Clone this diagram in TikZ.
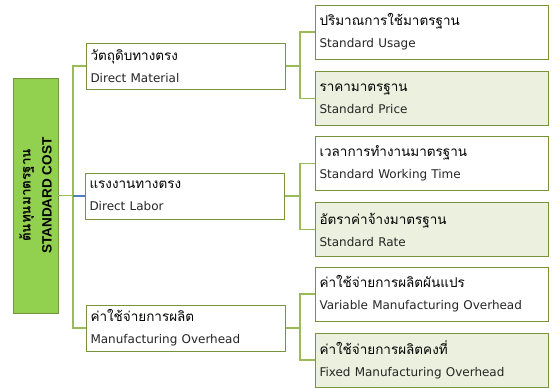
\documentclass[tikz,border=0pt]{standalone}
\usepackage{fontspec}
\setmainfont{DejaVu Sans}
\newfontfamily\thaif[Script=Thai]{Loma}
\newfontfamily\latf{DejaVu Sans}
\newfontfamily\latb{Liberation Sans}
\newcommand{\thai}{\thaif\fontsize{13.5}{22}\selectfont}
\newcommand{\lat}{\latf\fontsize{12}{22}\selectfont\color{textc}}
\definecolor{boxc}{HTML}{77933C}
\definecolor{linec}{HTML}{9BBB59}
\definecolor{lightfill}{HTML}{EBF1DE}
\definecolor{rootfill}{HTML}{92D050}
\definecolor{bluec}{HTML}{4F81BD}
\definecolor{textc}{HTML}{262626}
\tikzset{
  lonebox/.style={draw=boxc, line width=1pt, fill=white, minimum width=199pt, minimum height=46pt,
    text width=190pt, inner xsep=4.5pt, inner ysep=0pt, align=left,
    font=\fontsize{12.5}{22}\selectfont},
  ltwobox/.style={lonebox, minimum width=233pt, minimum height=54pt, text width=224pt},
  ltwofill/.style={ltwobox, fill=lightfill},
  conn/.style={draw=linec, line width=1.7pt},
  blueconn/.style={draw=bluec, line width=1.2pt},
  rootbox/.style={draw=boxc, line width=0.8pt, fill=rootfill, minimum width=45pt, minimum height=235pt, inner sep=0pt},
}
\begin{document}
\begin{tikzpicture}[x=1pt,y=-1pt]
\useasboundingbox (0,0) rectangle (552,388);
\coordinate (sp) at (73,0);
\coordinate (br) at (300,0);
% root
\node[rootbox] (root) at (35.5,195.5) {};
\node[rotate=90, align=center, inner sep=0pt, font=\fontsize{13.5}{21}\selectfont] (roottext) at (root.center)
  {{\thaif\bfseries ต้นทุนมาตรฐาน}\\{\latb\bfseries STANDARD COST}};
% level 1
\node[lonebox] (dm) at (185.5,66) {{\thai วัตถุดิบทางตรง}\\{\lat Direct Material}};
\node[lonebox] (dl) at (184.5,196) {{\thai แรงงานทางตรง}\\{\lat Direct Labor}};
\node[lonebox] (mo) at (185.5,328) {{\thai ค่าใช้จ่ายการผลิต}\\{\lat Manufacturing Overhead}};
% level 2
\node[ltwobox] (su) at (431.5,32) {{\thai ปริมาณการใช้มาตรฐาน}\\{\lat Standard Usage}};
\node[ltwofill] (spr) at (431.5,98.5) {{\thai ราคามาตรฐาน}\\{\lat Standard Price}};
\node[ltwobox] (swt) at (431.5,163.5) {{\thai เวลาการทำงานมาตรฐาน}\\{\lat Standard Working Time}};
\node[ltwofill] (sr) at (431.5,229.5) {{\thai อัตราค่าจ้างมาตรฐาน}\\{\lat Standard Rate}};
\node[ltwobox] (vmo) at (431.5,294) {{\thai ค่าใช้จ่ายการผลิตผันแปร}\\{\lat Variable Manufacturing Overhead}};
\node[ltwofill] (fmo) at (431.5,360) {{\thai ค่าใช้จ่ายการผลิตคงที่}\\{\lat Fixed Manufacturing Overhead}};
% connectors: spine
\draw[conn] (dm.west) -- (dm.west -| sp) -- (mo.west -| sp) -- (mo.west);
\draw[conn] (root.east) -- (root.east -| sp);
\draw[blueconn] (dl.west -| sp) -- (dl.west);
% brackets
\draw[conn] (dm.east) -- (dm.east -| br);
\draw[conn] (su.west) -- (su.west -| br) -- (spr.west -| br) -- (spr.west);
\draw[conn] (dl.east) -- (dl.east -| br);
\draw[conn] (swt.west) -- (swt.west -| br) -- (sr.west -| br) -- (sr.west);
\draw[conn] (mo.east) -- (mo.east -| br);
\draw[conn] (vmo.west) -- (vmo.west -| br) -- (fmo.west -| br) -- (fmo.west);
\end{tikzpicture}
\end{document}
